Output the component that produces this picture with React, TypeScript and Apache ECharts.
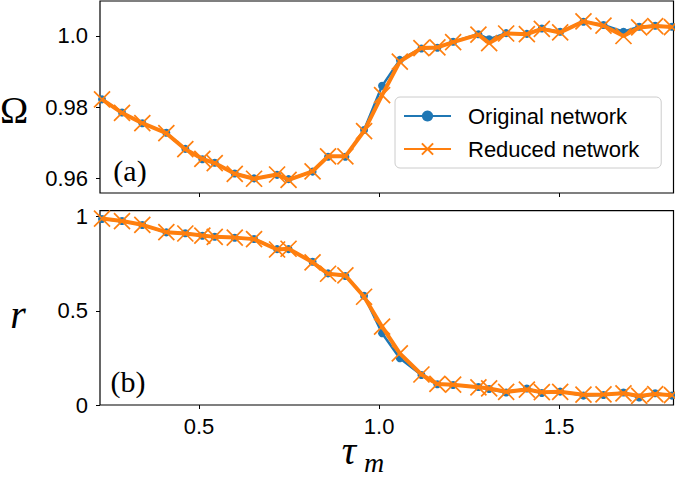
import React, { useEffect, useRef } from "react";
import * as echarts from "echarts";

const tau = [0.2306, 0.2861, 0.3425, 0.4092, 0.4619, 0.5092, 0.5436, 0.5992, 0.6528, 0.7167, 0.7486, 0.8153, 0.8583, 0.9064, 0.9583, 1.0083, 1.0575, 1.1175, 1.1619, 1.2056, 1.2758, 1.3056, 1.3528, 1.4103, 1.4519, 1.5028, 1.5675, 1.6231, 1.6786, 1.7222, 1.7667, 1.8131];
const omegaOriginal = [0.9822, 0.9785, 0.9755, 0.9728, 0.9683, 0.9654, 0.9644, 0.9614, 0.96, 0.961, 0.9598, 0.9619, 0.9661, 0.9661, 0.9736, 0.986, 0.9933, 0.9965, 0.9967, 0.9984, 1.0005, 0.9991, 1.0008, 1.0006, 1.0021, 1.0012, 1.004, 1.0031, 1.0012, 1.0026, 1.0029, 1.0026];
const omegaReduced = [0.9822, 0.9784, 0.9755, 0.9727, 0.9682, 0.9655, 0.9643, 0.9613, 0.9599, 0.9611, 0.9596, 0.962, 0.9662, 0.9662, 0.9733, 0.9834, 0.9928, 0.9966, 0.9968, 0.9983, 1.0004, 0.998, 1.0007, 1.0005, 1.002, 1.001, 1.0041, 1.0029, 1.0, 1.0024, 1.0028, 1.0025];
const rOriginal = [0.988, 0.977, 0.956, 0.917, 0.912, 0.899, 0.894, 0.888, 0.882, 0.828, 0.828, 0.761, 0.699, 0.685, 0.58, 0.381, 0.248, 0.159, 0.11, 0.106, 0.096, 0.085, 0.066, 0.088, 0.064, 0.071, 0.05, 0.053, 0.066, 0.04, 0.062, 0.05];
const rReduced = [0.99, 0.977, 0.957, 0.918, 0.911, 0.9, 0.893, 0.889, 0.881, 0.826, 0.83, 0.758, 0.697, 0.688, 0.575, 0.416, 0.274, 0.162, 0.112, 0.108, 0.094, 0.088, 0.07, 0.082, 0.068, 0.07, 0.055, 0.056, 0.062, 0.048, 0.058, 0.052];
const xTicks = [0.5, 1.0, 1.5];
const omegaTicks = [0.96, 0.98, 1.0];
const rTicks = [0, 0.5, 1];
const seriesNames = ["Original network", "Reduced network"];

const BLUE = "#1f77b4";
const ORANGE = "#ff7f0e";
const SANS = "Liberation Sans, Arial, sans-serif";
const SERIF = "Liberation Serif, DejaVu Serif, serif";

export default function App() {
  const ref = useRef<HTMLDivElement>(null);
  useEffect(() => {
    if (!ref.current) return;
    const chart = echarts.init(ref.current, null, { renderer: "svg" });
    const pairs = (ys: number[]) => tau.map((t, i) => [t, ys[i]]);
    const tickStyle = { show: true, inside: false, length: 4, lineStyle: { color: "#000", width: 1 } };
    const labelStyle = { color: "#000", fontSize: 22, fontFamily: SANS };
    const xAxisBase = (grid: number, showLabel: boolean) => ({
      type: "value",
      gridIndex: grid,
      min: 0.225,
      max: 1.8175,
      axisLine: { show: false },
      splitLine: { show: false },
      axisTick: { ...tickStyle, customValues: xTicks },
      axisLabel: {
        ...labelStyle,
        show: showLabel,
        margin: 10,
        customValues: xTicks,
        formatter: (v: number) => v.toFixed(1),
      },
    });
    const blueSeries = (name: string, x: number, data: number[][]) => ({
      name,
      type: "line",
      xAxisIndex: x,
      yAxisIndex: x,
      data,
      symbol: "circle",
      symbolSize: 8,
      showAllSymbol: true,
      lineStyle: { color: BLUE, width: 2.5 },
      itemStyle: { color: BLUE, borderWidth: 0 },
      z: 2,
    });
    const orangeSeries = (name: string, x: number, data: number[][]) => ({
      name,
      type: "line",
      xAxisIndex: x,
      yAxisIndex: x,
      data,
      symbol: "path://M0,0L10,10M10,0L0,10",
      symbolSize: 16,
      showAllSymbol: true,
      lineStyle: { color: ORANGE, width: 4 },
      itemStyle: { color: ORANGE, borderColor: ORANGE, borderWidth: 1.7 },
      z: 3,
    });
    chart.setOption({
      animation: false,
      backgroundColor: "#fff",
      grid: [
        { left: 100, top: 1, width: 573.5, height: 192, show: true, borderColor: "#000", borderWidth: 1.2, backgroundColor: "transparent", containLabel: false },
        { left: 100, top: 210.7, width: 573.5, height: 194.3, show: true, borderColor: "#000", borderWidth: 1.2, backgroundColor: "transparent", containLabel: false },
      ],
      xAxis: [xAxisBase(0, false), xAxisBase(1, true)],
      yAxis: [
        {
          type: "value",
          gridIndex: 0,
          min: 0.9559,
          max: 1.00983,
          axisLine: { show: false },
          splitLine: { show: false },
          axisTick: { ...tickStyle, customValues: omegaTicks },
          axisLabel: {
            ...labelStyle,
            margin: 12,
            customValues: omegaTicks,
            formatter: (v: number) => (Math.abs(v - 1) < 1e-9 ? "1.0" : v.toFixed(2)),
          },
        },
        {
          type: "value",
          gridIndex: 1,
          min: 0,
          max: 1.032,
          axisLine: { show: false },
          splitLine: { show: false },
          axisTick: { ...tickStyle, customValues: rTicks },
          axisLabel: {
            ...labelStyle,
            margin: 12,
            customValues: rTicks,
            formatter: (v: number) => (v === 0 ? "0" : v === 1 ? "1" : String(v)),
          },
        },
      ],
      legend: {
        data: seriesNames,
        orient: "vertical",
        left: 395,
        top: 97,
        padding: [8, 22, 8, 8],
        itemWidth: 47,
        itemHeight: 14,
        itemGap: 11,
        backgroundColor: "rgba(255,255,255,0.8)",
        borderColor: "#cccccc",
        borderWidth: 1,
        borderRadius: 5,
        textStyle: { color: "#000", fontSize: 22, fontFamily: SANS, lineHeight: 22, padding: [0, 0, 0, 12] },
      },
      series: [
        blueSeries(seriesNames[0], 0, pairs(omegaOriginal)),
        orangeSeries(seriesNames[1], 0, pairs(omegaReduced)),
        blueSeries(seriesNames[0], 1, pairs(rOriginal)),
        orangeSeries(seriesNames[1], 1, pairs(rReduced)),
      ],
      graphic: [
        { type: "text", x: 14, y: 110, style: { text: "Ω", font: `38px ${SERIF}`, fill: "#000", textAlign: "center", textVerticalAlign: "middle" } },
        { type: "text", x: 18, y: 314, style: { text: "r", font: `italic 40px ${SERIF}`, fill: "#000", textAlign: "center", textVerticalAlign: "middle" } },
        { type: "text", x: 349, y: 450, style: { text: "τ", font: `italic 40px ${SERIF}`, fill: "#000", textAlign: "center", textVerticalAlign: "middle" } },
        { type: "text", x: 374, y: 462, style: { text: "m", font: `italic 28px ${SERIF}`, fill: "#000", textAlign: "center", textVerticalAlign: "middle" } },
        { type: "text", x: 130, y: 170, style: { text: "(a)", font: `30px ${SERIF}`, fill: "#000", textAlign: "center", textVerticalAlign: "middle" } },
        { type: "text", x: 128, y: 381, style: { text: "(b)", font: `30px ${SERIF}`, fill: "#000", textAlign: "center", textVerticalAlign: "middle" } },
      ],
    });
    return () => chart.dispose();
  }, []);
  return <div ref={ref} style={{ width: 675, height: 477, position: "fixed", left: 0, top: 0 }} />;
}
